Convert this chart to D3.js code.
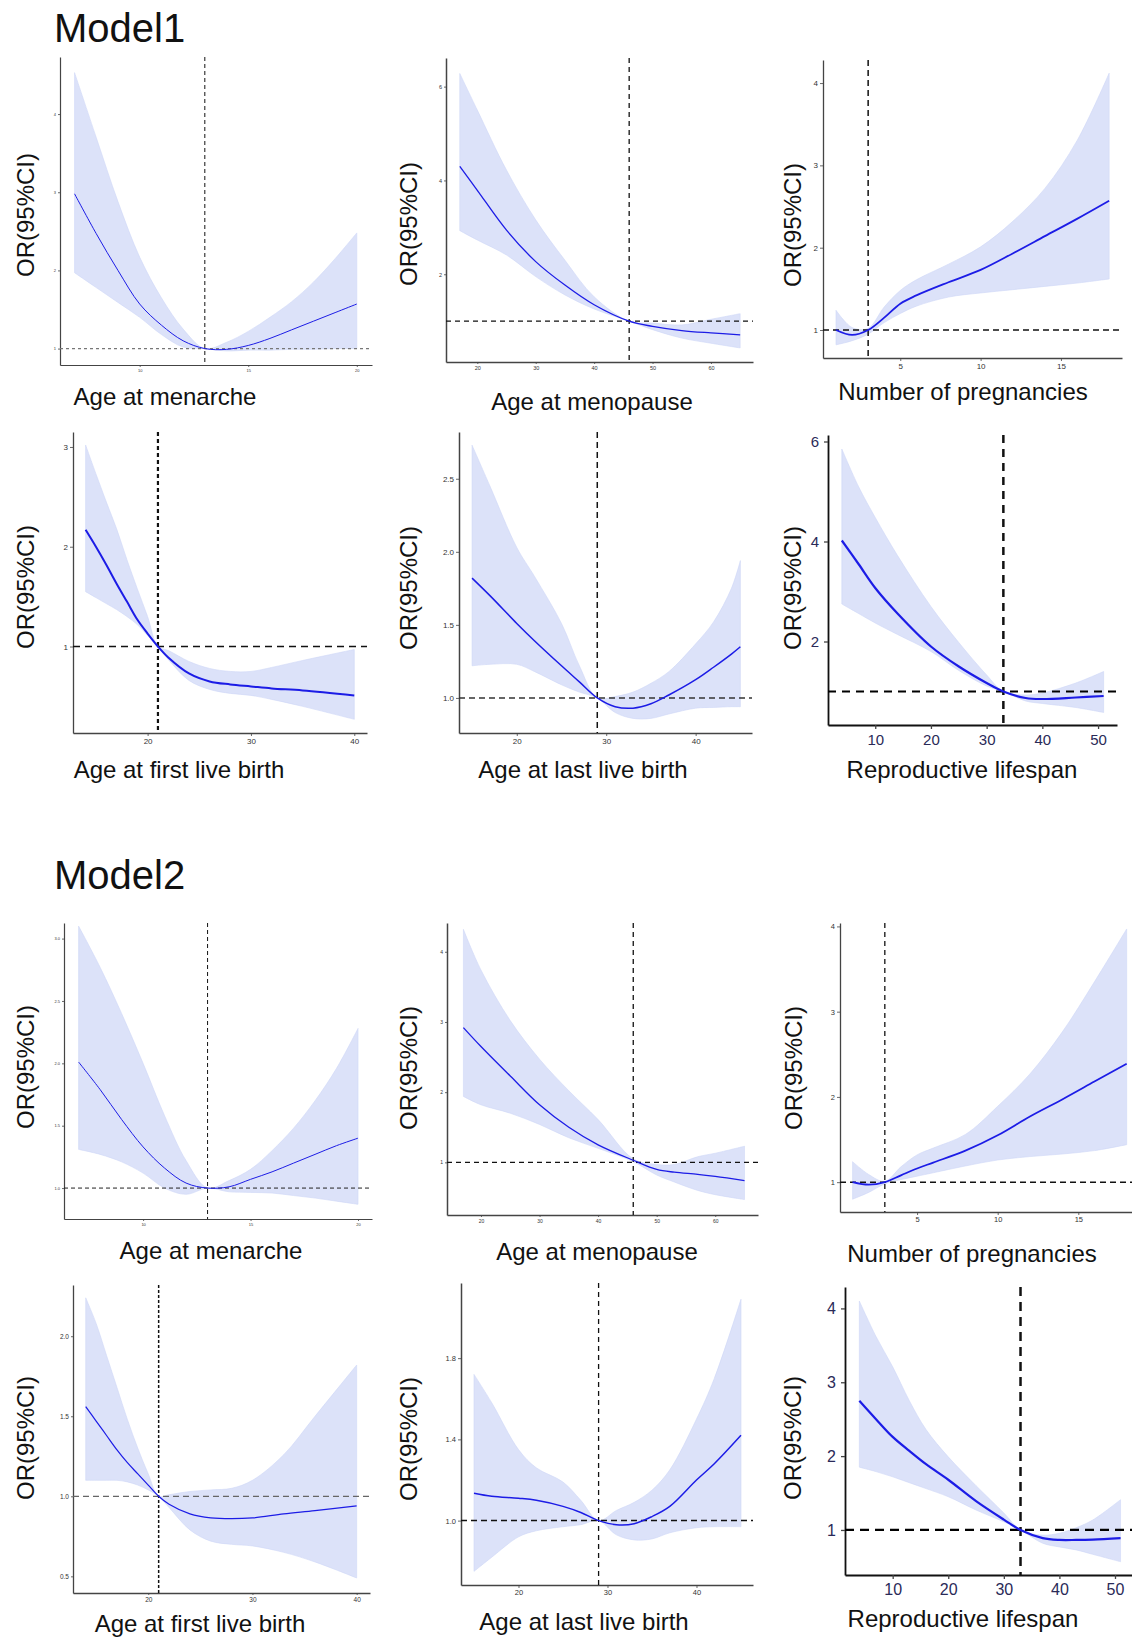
<!DOCTYPE html>
<html>
<head>
<meta charset="utf-8">
<script src="https://cdn.jsdelivr.net/npm/d3@7"></script>
<style>
  body { margin: 0; background: #fff; }
  svg text { font-family: "Liberation Sans", Arial, sans-serif; }
</style>
</head>
<body>
<svg id="chart" width="1132" height="1641"></svg>
<script>
// ---- Model 1 data ----
const m1MenarcheX  = [7, 8, 9, 10, 11, 12, 13, 14, 15, 16, 17, 18, 19, 20];
const m1MenarcheOR = [2.98, 2.47, 2.0, 1.57, 1.30, 1.10, 1.0, 0.99, 1.04, 1.13, 1.24, 1.35, 1.46, 1.57];
const m1MenarcheLo = [1.97, 1.78, 1.59, 1.40, 1.18, 1.02, 1.0, 0.97, 0.98, 0.98, 0.99, 0.99, 1.0, 1.0];
const m1MenarcheHi = [4.53, 3.70, 2.88, 2.17, 1.65, 1.25, 1.0, 1.08, 1.22, 1.40, 1.60, 1.85, 2.15, 2.48];

const m1MenopauseX  = [17, 20, 25, 30, 35, 40, 46, 50, 55, 60, 65];
const m1MenopauseOR = [4.30, 3.79, 2.94, 2.27, 1.77, 1.35, 1.0, 0.89, 0.80, 0.75, 0.71];
const m1MenopauseLo = [2.93, 2.73, 2.41, 1.95, 1.56, 1.26, 1.0, 0.82, 0.64, 0.53, 0.43];
const m1MenopauseHi = [6.28, 5.50, 4.22, 3.16, 2.30, 1.52, 1.0, 0.96, 0.92, 1.04, 1.16];

const m1PregX  = [1, 2, 3, 4, 5, 6, 8, 10, 12, 14, 16, 18];
const m1PregOR = [1.0, 0.94, 1.0, 1.15, 1.32, 1.42, 1.58, 1.73, 1.93, 2.14, 2.35, 2.57];
const m1PregLo = [0.82, 0.87, 0.95, 1.09, 1.20, 1.29, 1.40, 1.45, 1.49, 1.53, 1.57, 1.62];
const m1PregHi = [1.24, 1.03, 1.02, 1.28, 1.48, 1.61, 1.80, 2.01, 2.32, 2.72, 3.30, 4.12];

const m1FirstX  = [14, 15, 16, 17, 18, 19, 20, 21, 22, 24, 26, 28, 30, 32, 35, 40];
const m1FirstOR = [2.17, 2.0, 1.82, 1.63, 1.45, 1.27, 1.13, 1.0, 0.89, 0.73, 0.65, 0.62, 0.60, 0.58, 0.56, 0.51];
const m1FirstLo = [1.55, 1.49, 1.43, 1.37, 1.30, 1.22, 1.11, 1.0, 0.87, 0.66, 0.57, 0.53, 0.51, 0.47, 0.40, 0.27];
const m1FirstHi = [3.02, 2.73, 2.45, 2.18, 1.87, 1.58, 1.30, 1.0, 0.96, 0.85, 0.78, 0.75, 0.75, 0.79, 0.86, 0.97];

const m1LastX  = [15, 17, 20, 22, 25, 27, 29, 31, 33, 35, 37, 40, 42, 44, 45];
const m1LastOR = [1.82, 1.70, 1.51, 1.39, 1.22, 1.11, 1.0, 0.94, 0.93, 0.96, 1.02, 1.125, 1.21, 1.30, 1.35];
const m1LastLo = [1.22, 1.23, 1.23, 1.18, 1.09, 1.04, 1.0, 0.90, 0.86, 0.86, 0.89, 0.93, 0.935, 0.94, 0.94];
const m1LastHi = [2.73, 2.45, 2.03, 1.83, 1.51, 1.22, 1.0, 1.01, 1.04, 1.10, 1.18, 1.37, 1.52, 1.75, 1.94];

const m1SpanX  = [4, 7, 10, 14, 20, 25, 30, 33, 37, 40, 46, 51];
const m1SpanOR = [4.02, 3.55, 3.07, 2.56, 1.90, 1.50, 1.17, 1.0, 0.87, 0.85, 0.88, 0.91];
const m1SpanLo = [2.75, 2.56, 2.37, 2.14, 1.80, 1.42, 1.11, 1.0, 0.81, 0.76, 0.68, 0.58];
const m1SpanHi = [5.85, 5.10, 4.48, 3.72, 2.70, 1.98, 1.33, 1.0, 0.93, 0.97, 1.17, 1.40];

// ---- Model 2 data ----
const m2MenarcheX  = [7, 8, 9, 10, 11, 12, 13, 14, 15, 16, 17, 18, 19, 20];
const m2MenarcheOR = [2.01, 1.79, 1.55, 1.33, 1.16, 1.04, 1.0, 1.01, 1.07, 1.13, 1.20, 1.27, 1.34, 1.40];
const m2MenarcheLo = [1.31, 1.27, 1.21, 1.12, 1.0, 0.95, 1.0, 0.97, 0.965, 0.96, 0.94, 0.92, 0.895, 0.87];
const m2MenarcheHi = [3.10, 2.77, 2.40, 2.0, 1.58, 1.22, 1.0, 1.06, 1.15, 1.30, 1.48, 1.70, 1.96, 2.28];

const m2MenopauseX  = [17, 20, 25, 30, 35, 40, 46, 50, 53, 57, 60, 65];
const m2MenopauseOR = [2.92, 2.65, 2.23, 1.82, 1.50, 1.25, 1.03, 0.90, 0.86, 0.83, 0.80, 0.74];
const m2MenopauseLo = [1.94, 1.82, 1.70, 1.54, 1.35, 1.20, 1.01, 0.82, 0.72, 0.60, 0.54, 0.47];
const m2MenopauseHi = [4.32, 3.74, 3.02, 2.47, 2.02, 1.61, 1.05, 0.97, 0.97, 1.08, 1.13, 1.23];

const m2PregX  = [1, 2, 3, 4, 5, 6, 8, 10, 12, 14, 16, 18];
const m2PregOR = [1.0, 0.97, 1.0, 1.08, 1.16, 1.23, 1.37, 1.55, 1.77, 1.97, 2.18, 2.39];
const m2PregLo = [0.80, 0.88, 0.98, 1.03, 1.07, 1.11, 1.19, 1.26, 1.30, 1.33, 1.37, 1.44];
const m2PregHi = [1.24, 1.09, 1.01, 1.18, 1.32, 1.40, 1.56, 1.89, 2.27, 2.76, 3.35, 3.97];

const m2FirstX  = [14, 15, 16, 17, 18, 19, 20, 21, 22, 24, 26, 28, 30, 33, 36, 40];
const m2FirstOR = [1.56, 1.47, 1.38, 1.29, 1.21, 1.14, 1.07, 1.0, 0.95, 0.89, 0.865, 0.86, 0.865, 0.89, 0.91, 0.94];
const m2FirstLo = [1.10, 1.10, 1.10, 1.10, 1.09, 1.07, 1.04, 1.0, 0.93, 0.79, 0.72, 0.70, 0.69, 0.65, 0.59, 0.49];
const m2FirstHi = [2.24, 2.08, 1.88, 1.68, 1.48, 1.30, 1.14, 1.0, 1.01, 1.03, 1.04, 1.05, 1.10, 1.26, 1.50, 1.82];

const m2LastX  = [15, 17, 20, 22, 25, 27, 29, 31, 33, 35, 37, 40, 42, 45];
const m2LastOR = [1.135, 1.12, 1.11, 1.10, 1.07, 1.04, 1.0, 0.98, 0.985, 1.02, 1.07, 1.20, 1.28, 1.42];
const m2LastLo = [0.75, 0.82, 0.92, 0.95, 0.97, 0.98, 1.0, 0.93, 0.905, 0.91, 0.94, 0.965, 0.97, 0.97];
const m2LastHi = [1.72, 1.58, 1.35, 1.26, 1.19, 1.10, 1.0, 1.05, 1.09, 1.15, 1.25, 1.50, 1.70, 2.09];

const m2SpanX  = [4, 7, 10, 13, 16, 20, 25, 30, 33, 37, 40, 43, 46, 51];
const m2SpanOR = [2.75, 2.50, 2.26, 2.07, 1.89, 1.68, 1.39, 1.14, 1.0, 0.89, 0.865, 0.865, 0.87, 0.89];
const m2SpanLo = [1.85, 1.79, 1.72, 1.64, 1.56, 1.45, 1.27, 1.11, 1.0, 0.82, 0.77, 0.73, 0.67, 0.57];
const m2SpanHi = [4.10, 3.62, 3.21, 2.75, 2.36, 1.99, 1.60, 1.23, 1.0, 0.93, 0.955, 1.03, 1.135, 1.41];

// ---- tick labels ----
const ticksMenarche = [10, 15, 20];
const ticksMenopause = [20, 30, 40, 50, 60];
const ticksPreg = [5, 10, 15];
const ticksBirth = [20, 30, 40];
const ticksSpan = [10, 20, 30, 40, 50];
const yTicks1234 = [1, 2, 3, 4];
const yTicks246 = [2, 4, 6];
const yTicks123 = [1, 2, 3];
const yTicksLast1 = [1.0, 1.5, 2.0, 2.5];
const yTicksMen2 = [1.0, 1.5, 2.0, 2.5, 3.0];
const yTicksFirst2 = [0.5, 1.0, 1.5, 2.0];
const yTicksLast2 = [1.0, 1.4, 1.8];

// panel layout table
const panels = [
  { x: m1MenarcheX, fit: m1MenarcheOR, lo: m1MenarcheLo, hi: m1MenarcheHi,
    box: [60, 57, 372, 365], xDom: [6.33, 20.7], yDom: [0.79, 4.73], xt: ticksMenarche, yt: yTicks1234, fmt: 'd',
    refX: 13, label: 'Age at menarche', lab: [165, 405], ylab: [25, 215],
    tf: 4, tk: 2, lw: 1, vd: '4,3', vw: 1, hd: '3,3', hw: 1.2, hc: '#777', aw: 1.2 },
  { x: m1MenopauseX, fit: m1MenopauseOR, lo: m1MenopauseLo, hi: m1MenopauseHi,
    box: [446, 58, 753, 362], xDom: [14.64, 67.2], yDom: [0.13, 6.61], xt: ticksMenopause, yt: yTicks246, fmt: 'd',
    refX: 46, label: 'Age at menopause', lab: [592, 410], ylab: [408, 224],
    tf: 5.5, tk: 2, lw: 1.3, vd: '5,4', vw: 1.3, hd: '5,4', hw: 1.3, hc: '#111', aw: 1.5 },
  { x: m1PregX, fit: m1PregOR, lo: m1PregLo, hi: m1PregHi,
    box: [823, 60, 1122, 358], xDom: [0.19, 18.8], yDom: [0.66, 4.28], xt: ticksPreg, yt: yTicks1234, fmt: 'd',
    refX: 3, label: 'Number of pregnancies', lab: [963, 400], ylab: [792, 225],
    tf: 8, tk: 3, lw: 1.8, vd: '6,4', vw: 1.5, hd: '6,4', hw: 1.5, hc: '#111', aw: 1.3 },
  { x: m1FirstX, fit: m1FirstOR, lo: m1FirstLo, hi: m1FirstHi,
    box: [73, 432, 367, 733], xDom: [12.78, 41.23], yDom: [0.133, 3.15], xt: ticksBirth, yt: yTicks123, fmt: 'd',
    refX: 21, label: 'Age at first live birth', lab: [179, 778], ylab: [25, 587],
    tf: 8, tk: 3, lw: 2, vd: '4,3', vw: 2.2, hd: '7,5', hw: 1.5, hc: '#111', aw: 1.3 },
  { x: m1LastX, fit: m1LastOR, lo: m1LastLo, hi: m1LastHi,
    box: [459, 432, 752, 733], xDom: [13.54, 46.3], yDom: [0.76, 2.82], xt: ticksBirth, yt: yTicksLast1, fmt: '.1f',
    refX: 29, label: 'Age at last live birth', lab: [583, 778], ylab: [408, 588],
    tf: 8, tk: 3, lw: 1.5, vd: '6,4', vw: 1.5, hd: '6,4', hw: 1.5, hc: '#333', aw: 1.5 },
  { x: m1SpanX, fit: m1SpanOR, lo: m1SpanLo, hi: m1SpanHi,
    box: [828, 435, 1117, 725], xDom: [1.52, 53.4], yDom: [0.33, 6.13], xt: ticksSpan, yt: yTicks246, fmt: 'd',
    refX: 33, label: 'Reproductive lifespan', lab: [962, 778], ylab: [792, 588],
    tf: 15, tk: 4, lw: 2.2, vd: '8,6', vw: 2.5, hd: '8,6', hw: 2, hc: '#000', aw: 1.8, big: true },

  { x: m2MenarcheX, fit: m2MenarcheOR, lo: m2MenarcheLo, hi: m2MenarcheHi,
    box: [64, 923, 372, 1219], xDom: [6.32, 20.65], yDom: [0.752, 3.125], xt: ticksMenarche, yt: yTicksMen2, fmt: '.1f',
    refX: 13, label: 'Age at menarche', lab: [211, 1259], ylab: [25, 1067],
    tf: 4, tk: 2, lw: 1, vd: '4,3', vw: 1, hd: '4,3', hw: 1, hc: '#222', aw: 1.2 },
  { x: m2MenopauseX, fit: m2MenopauseOR, lo: m2MenopauseLo, hi: m2MenopauseHi,
    box: [447, 923, 758, 1215], xDom: [14.2, 67.3], yDom: [0.25, 4.41], xt: ticksMenopause, yt: yTicks1234, fmt: 'd',
    refX: 46, label: 'Age at menopause', lab: [597, 1260], ylab: [408, 1068],
    tf: 5, tk: 2, lw: 1.3, vd: '5,4', vw: 1.3, hd: '5,4', hw: 1.3, hc: '#111', aw: 1.5 },
  { x: m2PregX, fit: m2PregOR, lo: m2PregLo, hi: m2PregHi,
    box: [840, 923, 1132, 1212], xDom: [0.22, 18.33], yDom: [0.65, 4.04], xt: ticksPreg, yt: yTicks1234, fmt: 'd',
    refX: 3, label: 'Number of pregnancies', lab: [972, 1262], ylab: [793, 1068],
    tf: 7.5, tk: 3, lw: 1.8, vd: '5,4', vw: 1.3, hd: '6,4', hw: 1.5, hc: '#111', aw: 1.3 },
  { x: m2FirstX, fit: m2FirstOR, lo: m2FirstLo, hi: m2FirstHi,
    box: [73, 1285, 370, 1593], xDom: [12.78, 41.28], yDom: [0.396, 2.32], xt: ticksBirth, yt: yTicksFirst2, fmt: '.1f',
    refX: 21, label: 'Age at first live birth', lab: [200, 1632], ylab: [25, 1438],
    tf: 6.5, tk: 2, lw: 1.2, vd: '3,2', vw: 1.5, hd: '6,4', hw: 1.3, hc: '#666', aw: 1.3 },
  { x: m2LastX, fit: m2LastOR, lo: m2LastLo, hi: m2LastHi,
    box: [461, 1283, 753, 1585], xDom: [13.54, 46.35], yDom: [0.683, 2.17], xt: ticksBirth, yt: yTicksLast2, fmt: '.1f',
    refX: 29, label: 'Age at last live birth', lab: [584, 1630], ylab: [408, 1439],
    tf: 7.5, tk: 3, lw: 1.5, vd: '5,4', vw: 1.3, hd: '6,4', hw: 1.5, hc: '#111', aw: 1.5 },
  { x: m2SpanX, fit: m2SpanOR, lo: m2SpanLo, hi: m2SpanHi,
    box: [845, 1287, 1132, 1575], xDom: [1.42, 53.06], yDom: [0.39, 4.29], xt: ticksSpan, yt: yTicks1234, fmt: 'd',
    refX: 33, label: 'Reproductive lifespan', lab: [963, 1627], ylab: [792, 1438],
    tf: 16, tk: 4, lw: 2.2, vd: '9,6', vw: 2.5, hd: '9,6', hw: 2.2, hc: '#000', aw: 1.8, big: true }
];

const svg = d3.select('#chart');

// model titles
svg.append('text').attr('x', 54).attr('y', 42).attr('font-size', 40).attr('fill', '#111').text('Model1');
svg.append('text').attr('x', 54).attr('y', 889).attr('font-size', 40).attr('fill', '#111').text('Model2');

panels.forEach(drawPanel);

function drawPanel(p) {
    const [left, top, right, bottom] = p.box;
    const x = d3.scaleLinear().domain(p.xDom).range([left, right]);
    const y = d3.scaleLinear().domain(p.yDom).range([bottom, top]);
    const pts = p.x.map((v, i) => ({ x: v, fit: p.fit[i], lo: p.lo[i], hi: p.hi[i] }));
    const smooth = d3.curveCatmullRom.alpha(0.5);

    const g = svg.append('g');

    // confidence ribbon
    const band = d3.area()
        .curve(smooth)
        .x(d => x(d.x))
        .y0(d => y(d.lo))
        .y1(d => y(d.hi));
    g.append('path')
        .datum(pts)
        .attr('fill', '#dce2f9')
        .attr('stroke', '#cfd7f7')
        .attr('stroke-width', 0.6)
        .attr('d', band);

    // axes
    const tickColor = p.big ? '#2a2a58' : '#333';
    const xAxis = g.append('g')
        .attr('transform', `translate(0,${bottom})`)
        .call(d3.axisBottom(x).tickValues(p.xt).tickSize(p.tk).tickSizeOuter(0).tickPadding(p.big ? 5 : 2)
            .tickFormat(d3.format('d')));
    const yAxis = g.append('g')
        .attr('transform', `translate(${left},0)`)
        .call(d3.axisLeft(y).tickValues(p.yt).tickSize(p.tk).tickSizeOuter(0).tickPadding(p.big ? 5 : 2)
            .tickFormat(d3.format(p.fmt)));
    [xAxis, yAxis].forEach(a => {
        a.select('.domain').attr('stroke', p.big ? '#111' : '#444').attr('stroke-width', p.aw);
        a.selectAll('.tick line').attr('stroke', '#444').attr('stroke-width', p.big ? 1.3 : 0.8);
        a.selectAll('.tick text')
            .attr('font-size', p.tf)
            .attr('fill', tickColor)
            .attr('font-family', '"Liberation Sans", Arial, sans-serif');
    });

    // reference lines
    g.append('line')
        .attr('x1', left).attr('x2', right)
        .attr('y1', y(1)).attr('y2', y(1))
        .attr('stroke', p.hc).attr('stroke-width', p.hw)
        .attr('stroke-dasharray', p.hd);
    g.append('line')
        .attr('x1', x(p.refX)).attr('x2', x(p.refX))
        .attr('y1', top).attr('y2', bottom)
        .attr('stroke', '#111').attr('stroke-width', p.vw)
        .attr('stroke-dasharray', p.vd);

    // fitted OR curve
    const line = d3.line()
        .curve(smooth)
        .x(d => x(d.x))
        .y(d => y(d.fit));
    g.append('path')
        .datum(pts)
        .attr('fill', 'none')
        .attr('stroke', '#1c1ce6')
        .attr('stroke-width', p.lw)
        .attr('d', line);

    // axis titles
    g.append('text')
        .attr('x', p.lab[0]).attr('y', p.lab[1])
        .attr('text-anchor', 'middle')
        .attr('font-size', 24)
        .attr('fill', '#111')
        .text(p.label);
    g.append('text')
        .attr('transform', `translate(${p.ylab[0]},${p.ylab[1]}) rotate(-90)`)
        .attr('text-anchor', 'middle')
        .attr('dominant-baseline', 'central')
        .attr('font-size', 24)
        .attr('fill', '#111')
        .text('OR(95%CI)');
}
</script>
</body>
</html>
